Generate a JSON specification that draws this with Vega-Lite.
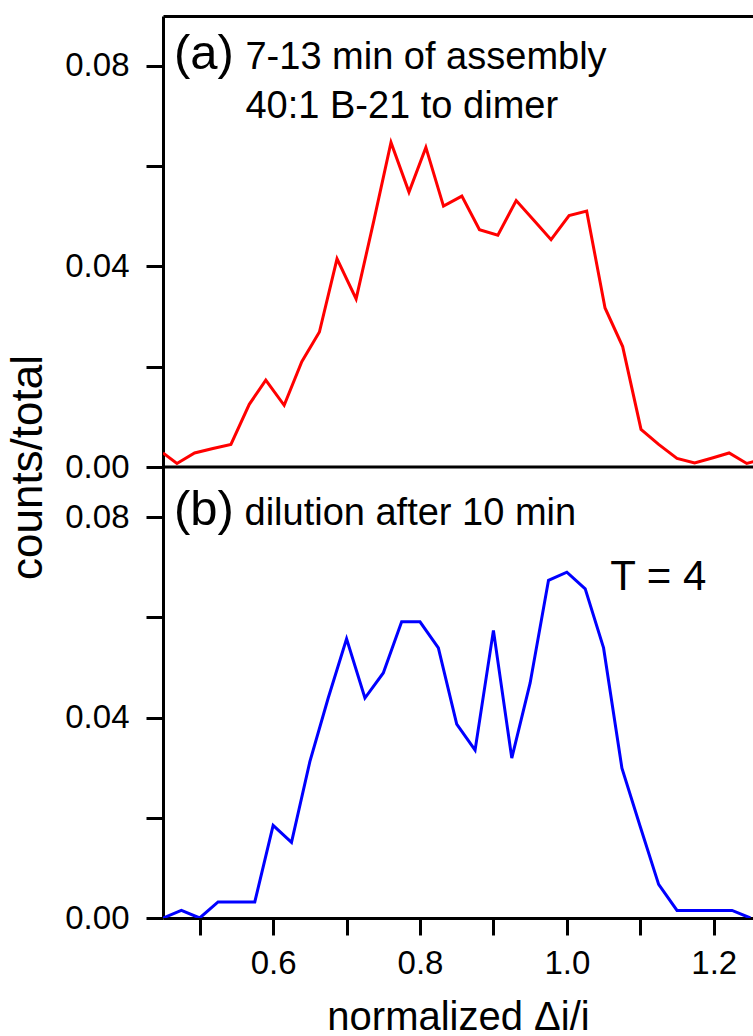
{
  "$schema": "https://vega.github.io/schema/vega-lite/v6.json",
  "background": "white",
  "padding": {"left": 6, "top": 16, "right": 0, "bottom": 0},
  "spacing": 0,
  "bounds": "flush",
  "config": {
    "view": {"stroke": null},
    "font": "Liberation Sans",
    "axis": {
      "grid": false,
      "domainColor": "black",
      "domainWidth": 3,
      "tickColor": "black",
      "tickWidth": 3,
      "labelColor": "black",
      "titleColor": "black",
      "labelFont": "Liberation Sans",
      "titleFont": "Liberation Sans",
      "labelFontSize": 33,
      "titleFontSize": 44,
      "titleFontWeight": "normal",
      "labelFlush": false,
      "labelOverlap": false
    },
    "text": {"font": "Liberation Sans", "color": "black"}
  },
  "datasets": {
    "a": [
      {"x": 0.45, "y": 0.0028}, {"x": 0.469, "y": 0.0007}, {"x": 0.493, "y": 0.0028},
      {"x": 0.518, "y": 0.0037}, {"x": 0.5425, "y": 0.0045}, {"x": 0.5675, "y": 0.0125},
      {"x": 0.59, "y": 0.0173}, {"x": 0.615, "y": 0.0123}, {"x": 0.639, "y": 0.021},
      {"x": 0.663, "y": 0.0269}, {"x": 0.687, "y": 0.0415}, {"x": 0.713, "y": 0.0335},
      {"x": 0.737, "y": 0.049}, {"x": 0.7605, "y": 0.0647}, {"x": 0.785, "y": 0.0548},
      {"x": 0.808, "y": 0.0637}, {"x": 0.832, "y": 0.052}, {"x": 0.857, "y": 0.054},
      {"x": 0.881, "y": 0.0473}, {"x": 0.906, "y": 0.0462}, {"x": 0.931, "y": 0.0531},
      {"x": 0.955, "y": 0.0492}, {"x": 0.9785, "y": 0.0453}, {"x": 1.003, "y": 0.0501},
      {"x": 1.027, "y": 0.051}, {"x": 1.052, "y": 0.0317}, {"x": 1.076, "y": 0.024},
      {"x": 1.101, "y": 0.0075}, {"x": 1.125, "y": 0.0045}, {"x": 1.15, "y": 0.0017},
      {"x": 1.174, "y": 0.0008}, {"x": 1.198, "y": 0.0018}, {"x": 1.221, "y": 0.0028},
      {"x": 1.245, "y": 0.0007}, {"x": 1.262, "y": 0.0014}
    ],
    "b": [
      {"x": 0.45, "y": 0.0}, {"x": 0.475, "y": 0.0015}, {"x": 0.5, "y": 0.0},
      {"x": 0.525, "y": 0.0032}, {"x": 0.55, "y": 0.0032}, {"x": 0.575, "y": 0.0032},
      {"x": 0.6, "y": 0.0185}, {"x": 0.625, "y": 0.0151}, {"x": 0.65, "y": 0.0312},
      {"x": 0.675, "y": 0.0439}, {"x": 0.7, "y": 0.0557}, {"x": 0.725, "y": 0.0439},
      {"x": 0.75, "y": 0.0489}, {"x": 0.775, "y": 0.0591}, {"x": 0.8, "y": 0.0591},
      {"x": 0.825, "y": 0.0539}, {"x": 0.85, "y": 0.0387}, {"x": 0.875, "y": 0.0335},
      {"x": 0.9, "y": 0.0574}, {"x": 0.925, "y": 0.0319}, {"x": 0.95, "y": 0.0469},
      {"x": 0.975, "y": 0.0674}, {"x": 1.0, "y": 0.069}, {"x": 1.025, "y": 0.0657},
      {"x": 1.05, "y": 0.0539}, {"x": 1.075, "y": 0.0299}, {"x": 1.1, "y": 0.0182},
      {"x": 1.125, "y": 0.0067}, {"x": 1.15, "y": 0.0015}, {"x": 1.175, "y": 0.0015},
      {"x": 1.2, "y": 0.0015}, {"x": 1.225, "y": 0.0015}, {"x": 1.25, "y": 0.0}
    ]
  },
  "vconcat": [
    {
      "width": 590,
      "height": 451,
      "layer": [
        {
          "data": {"name": "a"},
          "mark": {"type": "line", "color": "#ff0000", "strokeWidth": 3, "clip": true},
          "encoding": {
            "x": {
              "field": "x", "type": "quantitative",
              "scale": {"domain": [0.45, 1.2535], "nice": false, "zero": false},
              "axis": {"orient": "top", "labels": false, "ticks": false, "title": null, "domain": true}
            },
            "y": {
              "field": "y", "type": "quantitative",
              "scale": {"domain": [0, 0.0899], "nice": false, "zero": false},
              "axis": {
                "values": [0, 0.02, 0.04, 0.06, 0.08],
                "labelExpr": "(datum.value === 0.02 || datum.value === 0.06) ? '' : format(datum.value, '.2f')",
                "tickSize": 17,
                "labelPadding": 17,
                "title": "counts/total",
                "titleAnchor": "start",
                "titleAlign": "center",
                "titlePadding": 14,
                "encode": {"ticks": {"x2": {"condition": {"test": "datum.value === 0.02 || datum.value === 0.06", "value": -8}, "value": -17}}}
              }
            }
          }
        },
        {
          "data": {"values": [{}]},
          "mark": {"type": "rule", "color": "black", "strokeWidth": 3},
          "encoding": {"y": {"datum": 0, "type": "quantitative"}}
        },
        {
          "data": {"values": [{"t": "(a)"}]},
          "mark": {"type": "text", "align": "left", "baseline": "alphabetic", "fontSize": 49},
          "encoding": {
            "x": {"datum": 0.465, "type": "quantitative"},
            "y": {"datum": 0.0794, "type": "quantitative"},
            "text": {"field": "t"}
          }
        },
        {
          "data": {"values": [{"t": "7-13 min of assembly"}]},
          "mark": {"type": "text", "align": "left", "baseline": "alphabetic", "fontSize": 38},
          "encoding": {
            "x": {"datum": 0.5623, "type": "quantitative"},
            "y": {"datum": 0.0794, "type": "quantitative"},
            "text": {"field": "t"}
          }
        },
        {
          "data": {"values": [{"t": "40:1 B-21 to dimer"}]},
          "mark": {"type": "text", "align": "left", "baseline": "alphabetic", "fontSize": 38},
          "encoding": {
            "x": {"datum": 0.5623, "type": "quantitative"},
            "y": {"datum": 0.0696, "type": "quantitative"},
            "text": {"field": "t"}
          }
        }
      ]
    },
    {
      "width": 590,
      "height": 451,
      "layer": [
        {
          "data": {"name": "b"},
          "mark": {"type": "line", "color": "#0000ff", "strokeWidth": 3, "clip": true},
          "encoding": {
            "x": {
              "field": "x", "type": "quantitative",
              "scale": {"domain": [0.45, 1.2535], "nice": false, "zero": false},
              "axis": {
                "orient": "bottom",
                "values": [0.5, 0.6, 0.7, 0.8, 0.9, 1, 1.1, 1.2],
                "labelExpr": "(datum.value === 0.6 || datum.value === 0.8 || datum.value === 1 || datum.value === 1.2) ? format(datum.value, '.1f') : ''",
                "tickSize": 17,
                "labelPadding": 12,
                "title": "normalized Δi/i",
                "titleFontSize": 40,
                "titlePadding": 17,
                "encode": {"ticks": {"y2": {"condition": {"test": "datum.value === 0.5 || datum.value === 0.7 || datum.value === 0.9 || datum.value === 1.1", "value": 8}, "value": 17}}}
              }
            },
            "y": {
              "field": "y", "type": "quantitative",
              "scale": {"domain": [0, 0.09], "nice": false, "zero": false},
              "axis": {
                "values": [0, 0.02, 0.04, 0.06, 0.08],
                "labelExpr": "(datum.value === 0.02 || datum.value === 0.06) ? '' : format(datum.value, '.2f')",
                "tickSize": 17,
                "labelPadding": 17,
                "title": null,
                "encode": {"ticks": {"x2": {"condition": {"test": "datum.value === 0.02 || datum.value === 0.06", "value": -8}, "value": -17}}}
              }
            }
          }
        },
        {
          "data": {"values": [{"t": "(b)"}]},
          "mark": {"type": "text", "align": "left", "baseline": "alphabetic", "fontSize": 49},
          "encoding": {
            "x": {"datum": 0.465, "type": "quantitative"},
            "y": {"datum": 0.0784, "type": "quantitative"},
            "text": {"field": "t"}
          }
        },
        {
          "data": {"values": [{"t": "dilution after 10 min"}]},
          "mark": {"type": "text", "align": "left", "baseline": "alphabetic", "fontSize": 38},
          "encoding": {
            "x": {"datum": 0.561, "type": "quantitative"},
            "y": {"datum": 0.0784, "type": "quantitative"},
            "text": {"field": "t"}
          }
        },
        {
          "data": {"values": [{"t": "T = 4"}]},
          "mark": {"type": "text", "align": "left", "baseline": "alphabetic", "fontSize": 42},
          "encoding": {
            "x": {"datum": 1.059, "type": "quantitative"},
            "y": {"datum": 0.0654, "type": "quantitative"},
            "text": {"field": "t"}
          }
        }
      ]
    }
  ]
}
